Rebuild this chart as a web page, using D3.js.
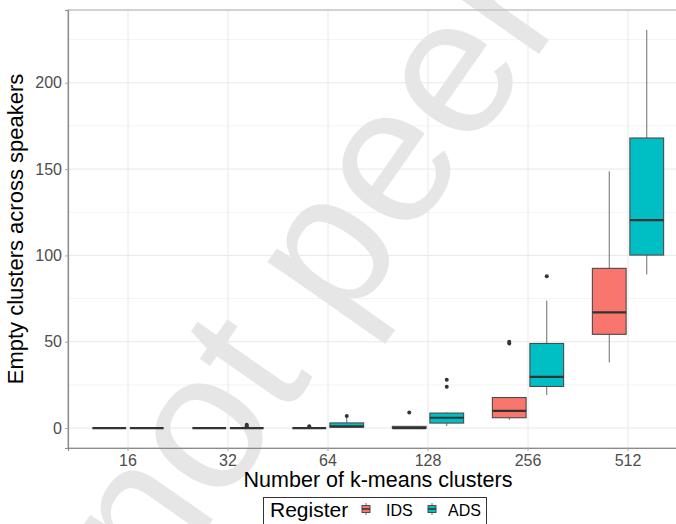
<!DOCTYPE html>
<html>
<head>
<meta charset="utf-8">
<script src="https://cdn.jsdelivr.net/npm/d3@7"></script>
<style>
  html, body { margin: 0; padding: 0; background: #fff; }
  svg { display: block; font-family: "Liberation Sans", Arial, Helvetica, sans-serif; }
</style>
</head>
<body>
<div id="chart"></div>
<script>
const width = 676;
const height = 524;

// k-means cluster counts on the x axis
const categories = ['16', '32', '64', '128', '256', '512'];
const registers = ['IDS', 'ADS'];

// box plot summaries (lower whisker, q1, median, q3, upper whisker)
const idsLow = [0, 0, 0, 0, 4.8, 38];
const idsQ1 = [0, 0, 0, 0, 6, 54.3];
const idsMedian = [0, 0, 0, 0, 10, 67];
const idsQ3 = [0, 0, 0, 1, 17.7, 92.5];
const idsHigh = [0, 0, 0, 1, 17.7, 148.7];
const idsOutliers = [[], [], [1], [9], [49, 50], []];

const adsLow = [0, 0, 0, 1.2, 19.1, 89];
const adsQ1 = [0, 0, 0.5, 2.9, 24.1, 100.2];
const adsMedian = [0, 0, 1, 6, 29.7, 120.4];
const adsQ3 = [0, 0, 3, 8.7, 49, 168];
const adsHigh = [0, 0, 6, 9.1, 73.8, 230.6];
const adsOutliers = [[], [1, 2], [7], [24, 28], [88], []];

const yTicks = [0, 50, 100, 150, 200];
const yMinorTicks = [25, 75, 125, 175, 225];

const colors = { IDS: '#F8766D', ADS: '#00BFC4' };

const boxes = [];
categories.forEach((cat, i) => {
  boxes.push({ cat, reg: 'IDS', low: idsLow[i], q1: idsQ1[i], med: idsMedian[i], q3: idsQ3[i], high: idsHigh[i], out: idsOutliers[i] });
  boxes.push({ cat, reg: 'ADS', low: adsLow[i], q1: adsQ1[i], med: adsMedian[i], q3: adsQ3[i], high: adsHigh[i], out: adsOutliers[i] });
});

// panel runs past the right edge of the picture, as in the original crop
const panel = { left: 68, top: 10, right: 688, bottom: 448 };

const svg = d3.select('#chart')
  .append('svg')
  .attr('width', width)
  .attr('height', height);

svg.append('rect')
  .attr('width', width)
  .attr('height', height)
  .attr('fill', '#ffffff');

const yMax = d3.max(boxes, d => d.high);
const pad = yMax * 0.05;
const yScale = d3.scaleLinear()
  .domain([-pad, yMax + pad])
  .range([panel.bottom, panel.top]);

const xScale = d3.scaleBand()
  .domain(categories)
  .range([panel.left, panel.right])
  .paddingInner(0)
  .paddingOuter(0.1);

const dodge = 75;
const subScale = d3.scaleBand()
  .domain(registers)
  .range([0, dodge])
  .paddingInner(0.1)
  .paddingOuter(0.05);

const boxX = d => xScale(d.cat) + xScale.bandwidth() / 2 - dodge / 2 + subScale(d.reg);
const boxMid = d => boxX(d) + subScale.bandwidth() / 2;

// grid
const grid = svg.append('g');
grid.selectAll('.minor')
  .data(yMinorTicks)
  .enter()
  .append('line')
  .attr('x1', panel.left)
  .attr('x2', panel.right)
  .attr('y1', d => yScale(d))
  .attr('y2', d => yScale(d))
  .attr('stroke', '#f3f3f3')
  .attr('stroke-width', 1);

grid.selectAll('.major')
  .data(yTicks)
  .enter()
  .append('line')
  .attr('x1', panel.left)
  .attr('x2', panel.right)
  .attr('y1', d => yScale(d))
  .attr('y2', d => yScale(d))
  .attr('stroke', '#e8e8e8')
  .attr('stroke-width', 1);

grid.selectAll('.vmajor')
  .data(categories)
  .enter()
  .append('line')
  .attr('x1', d => xScale(d) + xScale.bandwidth() / 2)
  .attr('x2', d => xScale(d) + xScale.bandwidth() / 2)
  .attr('y1', panel.top)
  .attr('y2', panel.bottom)
  .attr('stroke', '#e8e8e8')
  .attr('stroke-width', 1);

// preprint watermark
svg.append('text')
  .attr('transform', 'translate(158,598) rotate(-55)')
  .attr('font-size', 195)
  .attr('fill', '#e6e6e6')
  .text('not peer reviewed');

// whiskers
const boxG = svg.append('g');
boxG.selectAll('.whisker')
  .data(boxes)
  .enter()
  .append('line')
  .attr('x1', boxMid)
  .attr('x2', boxMid)
  .attr('y1', d => yScale(d.low))
  .attr('y2', d => yScale(d.high))
  .attr('stroke', '#6e6e6e')
  .attr('stroke-width', 1);

boxG.selectAll('.box')
  .data(boxes)
  .enter()
  .append('rect')
  .attr('x', boxX)
  .attr('y', d => yScale(d.q3))
  .attr('width', subScale.bandwidth())
  .attr('height', d => yScale(d.q1) - yScale(d.q3))
  .attr('fill', d => colors[d.reg])
  .attr('stroke', '#4a4a4a')
  .attr('stroke-width', 1.1);

boxG.selectAll('.median')
  .data(boxes)
  .enter()
  .append('line')
  .attr('x1', boxX)
  .attr('x2', d => boxX(d) + subScale.bandwidth())
  .attr('y1', d => yScale(d.med))
  .attr('y2', d => yScale(d.med))
  .attr('stroke', '#333333')
  .attr('stroke-width', 2.2);

const outPoints = boxes.flatMap(d => d.out.map(v => ({ box: d, v })));
boxG.selectAll('.outlier')
  .data(outPoints)
  .enter()
  .append('circle')
  .attr('cx', d => boxMid(d.box))
  .attr('cy', d => yScale(d.v))
  .attr('r', 2)
  .attr('fill', '#333333');

// panel border and axis lines
svg.append('rect')
  .attr('x', panel.left)
  .attr('y', panel.top)
  .attr('width', panel.right - panel.left)
  .attr('height', panel.bottom - panel.top)
  .attr('fill', 'none')
  .attr('stroke', '#c4c4c4')
  .attr('stroke-width', 1.5);

// axes
const yAxis = svg.append('g')
  .attr('transform', `translate(${panel.left},0)`)
  .call(d3.axisLeft(yScale).tickValues(yTicks).tickSize(3).tickPadding(3));

const xAxis = svg.append('g')
  .attr('transform', `translate(0,${panel.bottom})`)
  .call(d3.axisBottom(xScale).tickSize(3).tickPadding(4));

[yAxis, xAxis].forEach(ax => {
  ax.select('.domain').attr('stroke', '#8c8c8c').attr('stroke-width', 1.2);
  ax.selectAll('.tick line').attr('stroke', '#a6a6a6');
  ax.selectAll('.tick text')
    .attr('fill', '#4d4d4d')
    .style('font-size', '16px')
    .style('font-family', '"Liberation Sans", Arial, Helvetica, sans-serif');
});

// titles
svg.append('text')
  .attr('x', (panel.left + panel.right) / 2)
  .attr('y', 487)
  .attr('text-anchor', 'middle')
  .attr('font-size', 21.5)
  .attr('fill', '#000')
  .text('Number of k-means clusters');

svg.append('text')
  .attr('transform', `translate(23,${(panel.top + panel.bottom) / 2}) rotate(-90)`)
  .attr('text-anchor', 'middle')
  .attr('font-size', 22)
  .attr('fill', '#000')
  .text('Empty clusters across speakers');

// legend
const legend = svg.append('g');
legend.append('rect')
  .attr('x', 263.5)
  .attr('y', 497.5)
  .attr('width', 223)
  .attr('height', 40)
  .attr('fill', '#fff')
  .attr('stroke', '#333')
  .attr('stroke-width', 1);

legend.append('text')
  .attr('x', 270)
  .attr('y', 516.5)
  .attr('font-size', 21)
  .attr('fill', '#000')
  .text('Register');

const keyX = { IDS: 366, ADS: 432 };
const labelX = { IDS: 386, ADS: 448 };
registers.forEach(reg => {
  const k = legend.append('g').attr('transform', `translate(${keyX[reg]},509)`);
  k.append('line').attr('x1', 0).attr('x2', 0).attr('y1', -6).attr('y2', 6)
    .attr('stroke', '#6e6e6e').attr('stroke-width', 1);
  k.append('rect').attr('x', -4).attr('y', -3.5).attr('width', 8).attr('height', 7)
    .attr('fill', colors[reg]).attr('stroke', '#4a4a4a').attr('stroke-width', 1);
  k.append('line').attr('x1', -4).attr('x2', 4).attr('y1', 0).attr('y2', 0)
    .attr('stroke', '#333').attr('stroke-width', 1.5);
  legend.append('text')
    .attr('x', labelX[reg])
    .attr('y', 516)
    .attr('font-size', 16)
    .attr('fill', '#000')
    .text(reg);
});
</script>
</body>
</html>
